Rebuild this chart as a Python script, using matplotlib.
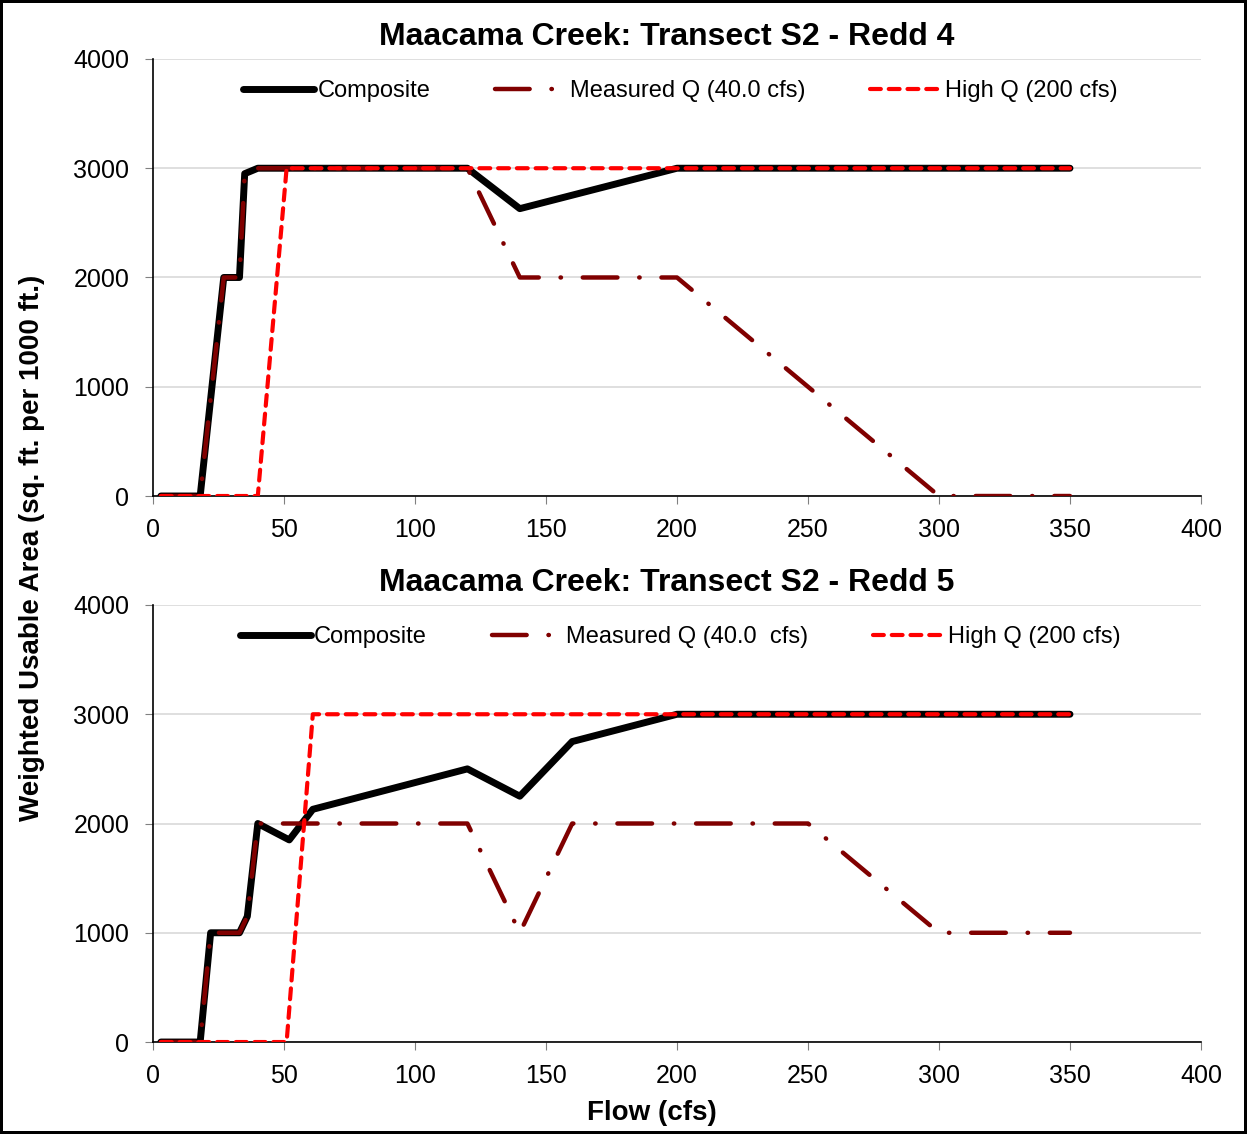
import matplotlib
matplotlib.use("Agg")
import matplotlib.pyplot as plt

plt.rcParams['font.family'] = ['Liberation Sans', 'DejaVu Sans']

# Redd 4 (top panel)
comp4_x = [3, 18, 27, 33, 35, 40, 120, 140, 200, 350]
comp4_y = [0, 0, 2000, 2000, 2950, 3000, 3000, 2630, 3000, 3000]
meas4_x = [3, 18, 27, 33, 35, 40, 120, 140, 200, 300, 350]
meas4_y = [0, 0, 2000, 2000, 2950, 3000, 3000, 2000, 2000, 0, 0]
high4_x = [3, 40, 51, 350]
high4_y = [0, 0, 3000, 3000]

# Redd 5 (bottom panel)
comp5_x = [3, 18, 22, 33, 36, 40, 52, 61, 120, 140, 160, 200, 350]
comp5_y = [0, 0, 1000, 1000, 1150, 2000, 1850, 2130, 2500, 2250, 2750, 3000, 3000]
meas5_x = [3, 18, 22, 33, 36, 40, 120, 140, 160, 250, 300, 350]
meas5_y = [0, 0, 1000, 1000, 1150, 2000, 2000, 1000, 2000, 2000, 1000, 1000]
high5_x = [3, 51, 61, 350]
high5_y = [0, 0, 3000, 3000]

titles = ["Maacama Creek: Transect S2 - Redd 4", "Maacama Creek: Transect S2 - Redd 5"]
meas_labels = ["Measured Q (40.0 cfs)", "Measured Q (40.0  cfs)"]
high_label = "High Q (200 cfs)"
x_ticks = [0, 50, 100, 150, 200, 250, 300, 350, 400]
y_ticks = [0, 1000, 2000, 3000, 4000]

fig = plt.figure(figsize=(12.47, 11.34), dpi=100, edgecolor='black', linewidth=3)
ax1 = fig.add_axes([0.1227, 0.5626, 0.8404, 0.3854])
ax2 = fig.add_axes([0.1227, 0.0811, 0.8404, 0.3854])

panels = [(ax1, comp4_x, comp4_y, meas4_x, meas4_y, high4_x, high4_y),
          (ax2, comp5_x, comp5_y, meas5_x, meas5_y, high5_x, high5_y)]

for i, (ax, cx, cy, mx, my, hx, hy) in enumerate(panels):
    p1, = ax.plot(cx, cy, color='black', lw=5, solid_joinstyle='round',
                  solid_capstyle='round', label="Composite", zorder=3)
    p2, = ax.plot(mx, my, color='#800000', lw=3.2, dashes=(7.8, 4.9, 0.1, 4.9),
                  dash_capstyle='round', label=meas_labels[i], zorder=4)
    p3, = ax.plot(hx, hy, color='#FF0000', lw=3, dashes=(2.6, 1.9),
                  dash_capstyle='round', label=high_label, zorder=5)

    ax.set_xlim(0, 400)
    ax.set_ylim(0, 4000)
    ax.set_xticks(x_ticks)
    ax.set_yticks(y_ticks)
    ax.tick_params(labelsize=18, length=6, color='#808080')
    ax.tick_params(axis='x', pad=10)
    ax.tick_params(axis='y', pad=11)
    ax.grid(axis='y', color='#D9D9D9', lw=1.2)
    ax.set_axisbelow(True)
    for s in ['top', 'right']:
        ax.spines[s].set_visible(False)
    ax.spines['left'].set_color('black')
    ax.spines['bottom'].set_color('black')
    ax.spines['left'].set_linewidth(1.2)
    ax.spines['bottom'].set_linewidth(1.2)

    ax.set_title(titles[i], fontsize=23, fontweight='bold', pad=10, x=0.49)
    ax.legend(handles=[p1, p2, p3], loc='upper center', bbox_to_anchor=(0.503, 1.0),
              ncol=3, frameon=False, fontsize=17, handlelength=3.0,
              handletextpad=0.15, columnspacing=2.75, borderaxespad=0.5)

fig.text(0.026, 0.517, "Weighted Usable Area (sq. ft. per 1000 ft.)", rotation=90,
         ha='center', va='center', fontsize=20, fontweight='bold')
fig.text(0.523, 0.0185, "Flow (cfs)", ha='center', va='center',
         fontsize=20, fontweight='bold')

fig.savefig("out.png", dpi=100, edgecolor=fig.get_edgecolor())
